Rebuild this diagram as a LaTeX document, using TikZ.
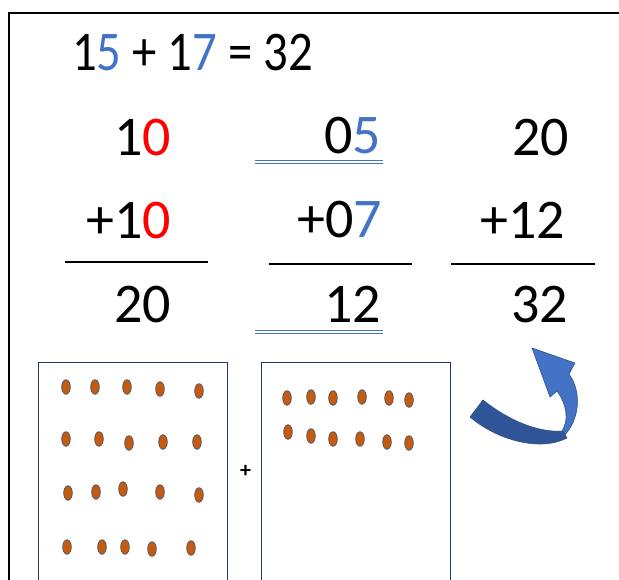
\documentclass[tikz,border=0pt]{standalone}
\usepackage{fontspec}
\setmainfont{Carlito}
\definecolor{myblue}{HTML}{4472C4}
\definecolor{myred}{HTML}{FF0000}
\definecolor{dotfill}{HTML}{C55A11}
\definecolor{dotedge}{HTML}{44546A}
\definecolor{boxedge}{HTML}{203864}
\definecolor{darkarrow}{HTML}{2F5597}
\definecolor{arrowedge}{HTML}{2F528F}
\begin{document}
\begin{tikzpicture}[x=1pt,y=-1pt,
  num/.style={inner sep=0pt, anchor=base east, font=\fontsize{56}{60}\selectfont},
  rulebar/.style={line width=1.5pt},
  dbl/.style={myblue, line width=0.9pt},
  bigbox/.style={boxedge, line width=1pt},
  dotmark/.style={fill=dotfill, draw=dotedge, line width=0.7pt}]
\useasboundingbox (0,0) rectangle (619,579);
\fill[white] (0,0) rectangle (619,579);
% outer frame
\draw[line width=2pt] (9,590) -- (9,13) -- (630,13);
% top equation
\node[inner sep=0pt, anchor=base west, font=\fontsize{56}{60}\selectfont] (eq) at (72,70)
  {\scalebox{0.87}[1]{1\textcolor{myblue}{5} + 1\textcolor{myblue}{7} = 32}};
% column 1
\node[num] (a1) at (171,155) {1\textcolor{myred}{0}};
\node[num] (a2) at (171,238) {+1\textcolor{myred}{0}};
\node[num] (a3) at (171,322) {20};
\draw[rulebar] (65,262) -- (208,262);
% column 2
\node[num] (b1) at (381,153) {0\textcolor{myblue}{5}};
\node[num] (b2) at (382,237) {+0\textcolor{myblue}{7}};
\node[num] (b3) at (381,322) {12};
\draw[rulebar] (269,264) -- (412,264);
\draw[dbl] (255,160.5) -- (383,160.5);
\draw[dbl] (255,163.5) -- (383,163.5);
\draw[dbl] (255,330.5) -- (383,330.5);
\draw[dbl] (255,333.5) -- (383,333.5);
% column 3
\node[num] (c1) at (569,155) {20};
\node[num] (c2) at (565,238) {+12};
\node[num] (c3) at (568,322) {32};
\draw[rulebar] (451,264) -- (595,264);
% boxes
\draw[bigbox] (38,590) -- (38,362) -- (227,362) -- (227,590);
\draw[bigbox] (261,590) -- (261,362) -- (450,362) -- (450,590);
\node[inner sep=0pt, font=\fontsize{22}{24}\selectfont\bfseries] (plus) at (245.5,471) {+};
% dots box 1
\foreach \x/\y in {66/387,95/387,127/387,160/389,199/391,
                   66/439,99/439,129/443,163/442,197/442,
                   68/493,96/492,123/489,160/492,199/495,
                   67/547,102/547,125/547,152/549,191/548}
  \draw[dotmark] (\x,\y) ellipse [x radius=4.3, y radius=7.3];
% dots box 2
\foreach \x/\y in {287/398,311/397,333/398,362/397,389/398,409/400,
                   288/432,311/436,333/439,360/439,387/442,409/443}
  \draw[dotmark] (\x,\y) ellipse [x radius=4.3, y radius=7.3];
% curved arrow
\draw[fill=myblue, draw=arrowedge, line width=0.6pt]
  (563,437) .. controls (580,420) and (582,392) .. (569,374)
  -- (575,363) -- (532,348) -- (550,397) -- (557,391)
  .. controls (567,405) and (569,420) .. (562,431) -- cycle;
\draw[fill=darkarrow, draw=arrowedge, line width=0.6pt]
  (483,400) .. controls (508,420) and (538,433) .. (563,431)
  -- (567,438) .. controls (540,452) and (497,440) .. (470,417) -- cycle;
\end{tikzpicture}
\end{document}
